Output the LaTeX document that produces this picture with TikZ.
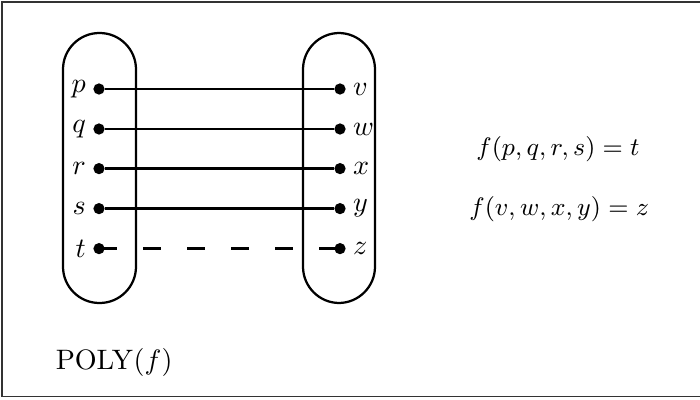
\documentclass[tikz,border=0pt]{standalone}
\usepackage{tikz}
\tikzset{
    capsule/.style={draw, line width=0.8pt, rounded corners=0.455cm},
    dot/.style={circle, fill=black, inner sep=0pt, minimum size=4pt},
    link/.style={line width=0.8pt}
}
\begin{document}
\begin{tikzpicture}
        \useasboundingbox (0,0) rectangle (8.75,4.9875);
        % Cornice
        \draw [line width=0.5pt, black!80] (0.025,0.03) rectangle (8.9,4.965);
        % Capsule
        \draw [capsule] (0.7875,1.2) rectangle (1.7,4.575);
        \draw [capsule] (3.7875,1.2) rectangle (4.6875,4.575);
        % Punti e etichette
        \foreach \l/\r/\y in {p/v/3.875, q/w/3.375, r/x/2.88, s/y/2.38, t/z/1.88} {
            \node [dot] (\l) at (1.2375,\y) {};
            \node [dot] (\r) at (4.25,\y) {};
            \node [left=0.04cm] at (\l) {$\l$};
            \node [right=0.04cm] at (\r) {$\r$};
        }
        % Collegamenti
        \draw [link] (p) -- (v);
        \draw [link] (q) -- (w);
        \draw [link] (r) -- (x);
        \draw [link] (s) -- (y);
        \draw [link, dash pattern=on 0.225cm off 0.325cm] (t.center) -- (z.center);
        % Formule
        \node (ft) at (6.975,3.12) {\small $f(p,q,r,s) = t$};
        \node (fz) at (6.99,2.37) {\small $f(v,w,x,y) = z$};
        \node [anchor=west, inner sep=0pt] (poly) at (0.69,0.46) {$\mathrm{POLY}(f)$};
    \end{tikzpicture}
\end{document}
